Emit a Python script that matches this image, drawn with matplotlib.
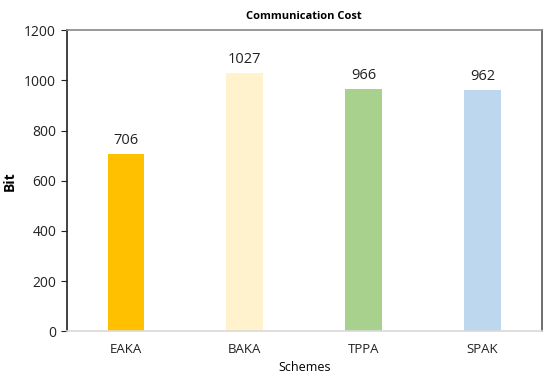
import matplotlib
matplotlib.use("Agg")
import matplotlib.pyplot as plt

schemes = ["EAKA", "BAKA", "TPPA", "SPAK"]
bits = [706, 1027, 966, 962]
colors = ["#FFC000", "#FFF2CC", "#A9D18E", "#BDD7EE"]
yticks = [0, 200, 400, 600, 800, 1000, 1200]

plt.rcParams["font.family"] = ["Open Sans", "DejaVu Sans"]

fig = plt.figure(figsize=(5.5, 3.85), dpi=100)
ax = fig.add_axes([0.121, 0.139, 0.864, 0.783])

x = range(len(schemes))
ax.bar(x, bits, width=0.31, color=colors)
for xi, v in zip(x, bits):
    ax.text(xi, v + 25, str(v), ha="center", va="bottom", fontsize=10.5, color="#222222")

ax.set_xlim(-0.5, 3.5)
ax.set_ylim(0, 1200)
ax.set_yticks(yticks)
ax.set_xticks(list(x))
ax.set_xticklabels(schemes)
ax.tick_params(axis="y", direction="out", length=4, labelsize=10, colors="#222222")
ax.tick_params(axis="x", length=0, labelsize=9.5, pad=8, colors="#222222")

ax.spines["left"].set_color("#222222")
ax.spines["top"].set_color("#888888")
ax.spines["right"].set_color("#555555")
ax.spines["bottom"].set_color("#d9d9d9")
for s in ax.spines.values():
    s.set_linewidth(1.2)

ax.set_title("Communication Cost", fontsize=8, fontweight="bold", pad=8)
ax.set_ylabel("Bit", fontsize=10, fontweight="bold", labelpad=5)
ax.set_xlabel("Schemes", fontsize=9, labelpad=4)

fig.savefig("out.png", dpi=100)
